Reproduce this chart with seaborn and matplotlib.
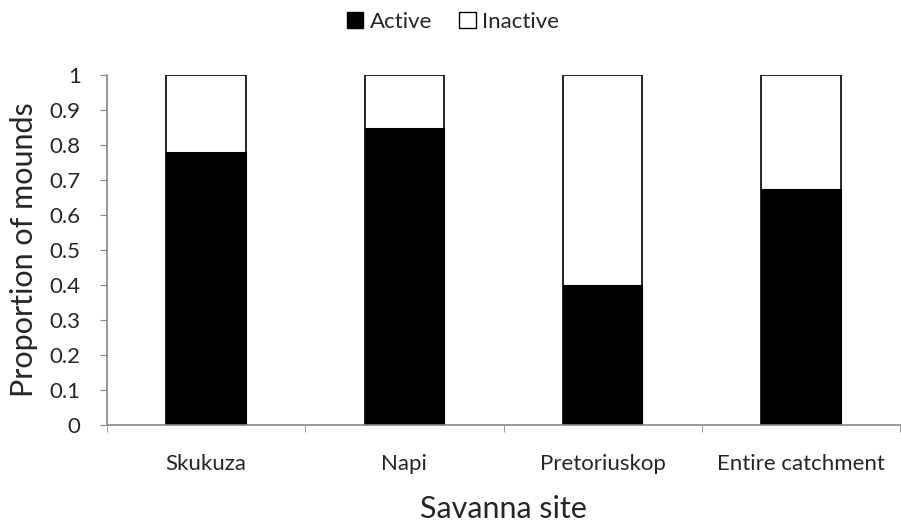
import numpy as np
import pandas as pd
import matplotlib
matplotlib.use("Agg")
import matplotlib.pyplot as plt
import seaborn as sns
from matplotlib.patches import Patch
from matplotlib.ticker import FixedLocator

sites = ["Skukuza", "Napi", "Pretoriuskop", "Entire catchment"]
active = [0.78, 0.85, 0.40, 0.675]
inactive = [0.22, 0.15, 0.60, 0.325]

df = pd.DataFrame({"site": sites, "active": active, "inactive": inactive})
df["total"] = df["active"] + df["inactive"]

sns.set_style("white")
plt.rcParams["font.family"] = ["Lato", "DejaVu Sans"]

fig = plt.figure(figsize=(9.01, 5.25), dpi=100)
ax = fig.add_axes([107 / 901, 1 - 425 / 525, 793 / 901, 350 / 525])

# stacked: white total bar underneath, black active bar on top
sns.barplot(data=df, x="site", y="total", color="white", edgecolor="black",
            linewidth=1.2, width=0.4, ax=ax, saturation=1)
sns.barplot(data=df, x="site", y="active", color="black", edgecolor="black",
            linewidth=0.8, width=0.4, ax=ax, saturation=1)

ax.set_xlim(-0.5, len(sites) - 0.5)
ax.set_ylim(0, 1)
ax.set_yticks(np.arange(0, 1.01, 0.1))
ax.set_yticklabels(["0"] + [f"{v:.1f}" for v in np.arange(0.1, 0.95, 0.1)] + ["1"])

ax.xaxis.set_minor_locator(FixedLocator(np.arange(-0.5, len(sites), 1)))
ax.tick_params(axis="x", which="major", length=0, labelsize=16, pad=21)
ax.tick_params(axis="x", which="minor", length=5, color="#888888", direction="out", bottom=True)
ax.tick_params(axis="y", length=5, color="#888888", direction="out", left=True, labelsize=16, pad=14)

for side in ["top", "right"]:
    ax.spines[side].set_visible(False)
for side in ["left", "bottom"]:
    ax.spines[side].set_color("#888888")
    ax.spines[side].set_linewidth(1.2)

ax.set_xlabel("Savanna site", fontsize=22, labelpad=15)
ax.set_ylabel("Proportion of mounds", fontsize=22, labelpad=8)

handles = [Patch(facecolor="black", edgecolor="black", label="Active"),
           Patch(facecolor="white", edgecolor="black", label="Inactive")]
fig.legend(handles=handles, loc="center", bbox_to_anchor=(453 / 901, 1 - 22 / 525), ncol=2,
           frameon=False, fontsize=16, handlelength=0.75, handleheight=0.75,
           handletextpad=0.3, columnspacing=1.2)

fig.savefig("out.png", dpi=100)
